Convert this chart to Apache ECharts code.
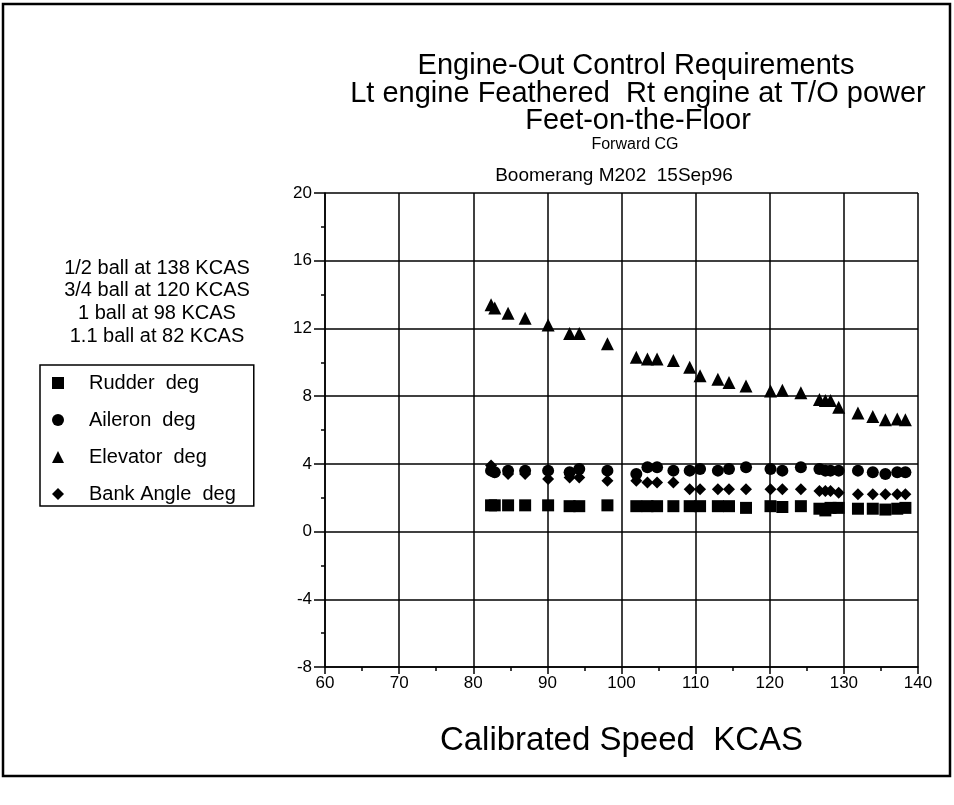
<!DOCTYPE html>
<html>
<head>
<meta charset="utf-8">
<script src="https://cdn.jsdelivr.net/npm/echarts@6/dist/echarts.min.js"></script>
<style>
  html, body { margin: 0; padding: 0; background: #fff; }
  #chart { width: 954px; height: 805px; }
</style>
</head>
<body>
<div id="chart"></div>
<script>
const chart = echarts.init(document.getElementById('chart'))

// test speeds (KCAS)
const speeds = [82.4, 82.9, 84.7, 87.0, 90.1, 93.0, 94.3, 98.1, 102.0, 103.5, 104.8, 107.0, 109.2, 110.6,
  113.0, 114.5, 116.8, 120.1, 121.7, 124.2, 126.7, 127.5, 128.2, 129.3, 131.9, 133.9, 135.6, 137.2, 138.3]

const rudder = [1.55, 1.55, 1.55, 1.55, 1.55, 1.5, 1.5, 1.55, 1.5, 1.5, 1.5, 1.5, 1.5, 1.5,
  1.5, 1.5, 1.4, 1.5, 1.45, 1.5, 1.35, 1.25, 1.4, 1.4, 1.35, 1.35, 1.3, 1.35, 1.4]

const aileron = [3.6, 3.5, 3.6, 3.6, 3.6, 3.5, 3.7, 3.6, 3.4, 3.8, 3.8, 3.6, 3.6, 3.7,
  3.6, 3.7, 3.8, 3.7, 3.6, 3.8, 3.7, 3.6, 3.6, 3.6, 3.6, 3.5, 3.4, 3.5, 3.5]

const elevator = [13.4, 13.2, 12.9, 12.6, 12.2, 11.7, 11.7, 11.1, 10.3, 10.2, 10.2, 10.1, 9.7, 9.2,
  9.0, 8.8, 8.6, 8.3, 8.35, 8.2, 7.8, 7.75, 7.75, 7.35, 7.0, 6.8, 6.6, 6.65, 6.6]

const bank = [3.9, 3.5, 3.4, 3.4, 3.1, 3.2, 3.2, 3.0, 3.0, 2.9, 2.9, 2.9, 2.5, 2.5,
  2.5, 2.5, 2.5, 2.5, 2.5, 2.5, 2.4, 2.4, 2.4, 2.3, 2.2, 2.2, 2.2, 2.2, 2.2]

const ballNotes = ['1/2 ball at 138 KCAS', '3/4 ball at 120 KCAS', '1 ball at 98 KCAS', '1.1 ball at 82 KCAS']

const font = 'Liberation Sans, Arial, Helvetica, sans-serif'

const pairs = (ys) => speeds.map((x, i) => [x, ys[i]])

const seriesDefs = [
  { name: 'Rudder  deg', symbol: 'rect', size: 12, data: rudder },
  { name: 'Aileron  deg', symbol: 'circle', size: 12, data: aileron },
  { name: 'Elevator  deg', symbol: 'triangle', size: 13, data: elevator },
  { name: 'Bank Angle  deg', symbol: 'diamond', size: 12, data: bank },
]

const titleText = (text, x, y, size) => ({
  text, left: x, top: y, textAlign: 'center',
  textStyle: { fontFamily: font, fontWeight: 'normal', fontSize: size, color: '#000' },
})

const option = {
  animation: false,
  backgroundColor: '#fff',
  title: [
    titleText('Engine-Out Control Requirements', 631, 46, 29),
    titleText('Lt engine Feathered  Rt engine at T/O power', 633, 74, 29),
    titleText('Feet-on-the-Floor', 633, 101, 29),
    titleText('Forward CG', 630, 132, 16),
    titleText('Boomerang M202  15Sep96', 609, 161, 19),
  ],
  legend: {
    orient: 'vertical',
    left: 40,
    top: 365,
    data: seriesDefs.map((s) => ({ name: s.name, icon: s.symbol })),
    itemWidth: 12,
    itemHeight: 12,
    itemGap: 17,
    padding: [8, 18, 2, 12],
    borderColor: '#000',
    borderWidth: 1.5,
    borderRadius: 0,
    selectedMode: false,
    textStyle: { fontFamily: font, fontSize: 20, color: '#000', padding: [0, 0, 0, 20] },
  },
  graphic: [
    { type: 'rect', shape: { x: 3, y: 4, width: 947, height: 772 },
      style: { fill: 'none', stroke: '#000', lineWidth: 2.5 }, silent: true },
    ...ballNotes.map((t, i) => ({
      type: 'text', x: 157, y: 268 + i * 22.7,
      style: { text: t, fontFamily: font, fontSize: 20, fill: '#000', align: 'center', verticalAlign: 'middle' },
    })),
  ],
  grid: { left: 325, right: 36, top: 193, bottom: 138 },
  xAxis: {
    type: 'value',
    min: 60,
    max: 140,
    interval: 10,
    name: 'Calibrated Speed  KCAS',
    nameLocation: 'middle',
    nameGap: 57,
    nameTextStyle: { fontFamily: font, fontSize: 33, color: '#000' },
    axisLine: { show: true, onZero: false, lineStyle: { color: '#000', width: 1.5 } },
    axisTick: { show: true, length: 7, lineStyle: { color: '#000', width: 1.5 } },
    minorTick: { show: true, splitNumber: 2, length: 4, lineStyle: { color: '#000', width: 1.5 } },
    axisLabel: { fontFamily: font, fontSize: 17, color: '#000', margin: 8 },
    splitLine: { show: true, lineStyle: { color: '#000', width: 1.5 } },
  },
  yAxis: {
    type: 'value',
    min: -8,
    max: 20,
    interval: 4,
    axisLine: { show: true, onZero: false, lineStyle: { color: '#000', width: 1.5 } },
    axisTick: { show: true, length: 11, lineStyle: { color: '#000', width: 1.5 } },
    minorTick: { show: true, splitNumber: 2, length: 4, lineStyle: { color: '#000', width: 1.5 } },
    axisLabel: { fontFamily: font, fontSize: 17, color: '#000', margin: 13 },
    splitLine: { show: true, lineStyle: { color: '#000', width: 1.5 } },
  },
  series: seriesDefs.map((s) => ({
    name: s.name,
    type: 'scatter',
    symbol: s.symbol,
    symbolSize: s.size,
    data: pairs(s.data),
    itemStyle: { color: '#000', opacity: 1 },
    emphasis: { disabled: true },
  })),
}

chart.setOption(option)
</script>
</body>
</html>
